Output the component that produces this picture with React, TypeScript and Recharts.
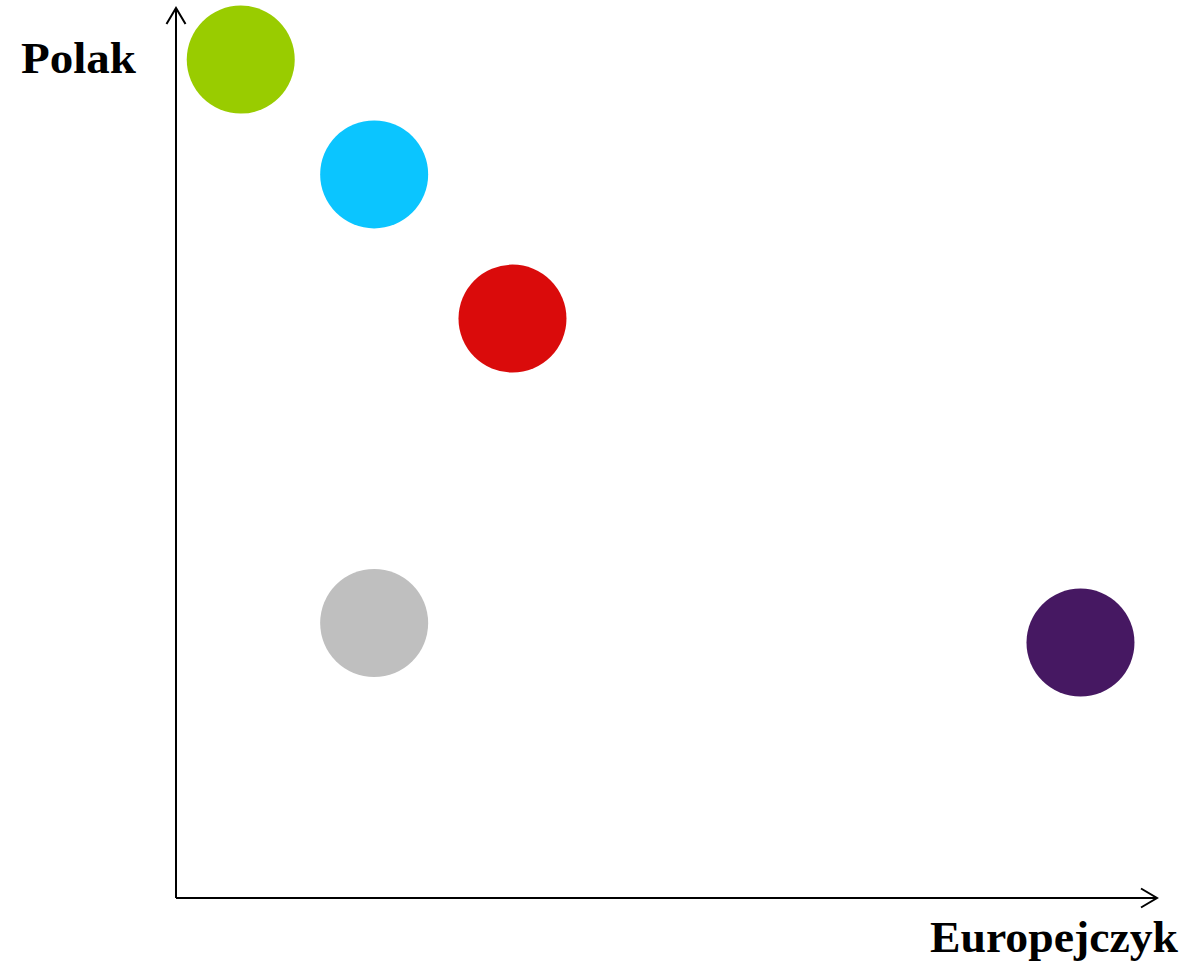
import React from 'react';
import { ScatterChart, Scatter, XAxis, YAxis, Cell, Label } from 'recharts';

// identities placed on the two axes
const names = ['A', 'B', 'C', 'D', 'E'];
const europeanValues = [6.6, 20.2, 34.3, 20.2, 92.2];
const polishValues = [94.2, 81.3, 65.1, 30.9, 28.7];
const colors = ['#99CC00', '#0BC5FF', '#DA0B0B', '#BFBFBF', '#461862'];

const xLabel = 'Europejczyk';
const yLabel = 'Polak';

const data = names.map((name, i) => ({
  name,
  x: europeanValues[i],
  y: polishValues[i],
}));

const labelFont = '"Liberation Serif", "DejaVu Serif", serif';

const Dot = (props: any) => {
  const { cx, cy, fill } = props;
  return <circle cx={cx} cy={cy} r={54} fill={fill} />;
};

const YLabel = (props: any) => {
  const { viewBox } = props;
  return (
    <text
      x={viewBox.x - 154}
      y={viewBox.y + 65}
      fontFamily={labelFont}
      fontWeight="bold"
      fontSize={44}
      fill="#000"
      textLength={115}
      lengthAdjust="spacingAndGlyphs"
    >
      {yLabel}
    </text>
  );
};

const XLabel = (props: any) => {
  const { viewBox } = props;
  return (
    <text
      x={viewBox.x + viewBox.width - 227}
      y={viewBox.y + 54}
      fontFamily={labelFont}
      fontWeight="bold"
      fontSize={44}
      fill="#000"
      textLength={248}
      lengthAdjust="spacingAndGlyphs"
    >
      {xLabel}
    </text>
  );
};

const App: React.FC = () => {
  return (
    <div style={{ position: 'absolute', top: 0, left: 0, background: '#fff' }}>
      {/* arrow heads for the axis lines */}
      <svg width={0} height={0} style={{ position: 'absolute' }}>
        <defs>
          <marker
            id="arrow"
            markerUnits="userSpaceOnUse"
            viewBox="-20 -12 22 24"
            refX={0}
            refY={0}
            markerWidth={22}
            markerHeight={24}
            orient="auto-start-reverse"
          >
            <path d="M-16,-9.5 L0,0 L-16,9.5" fill="none" stroke="#000" strokeWidth={2} />
          </marker>
        </defs>
      </svg>

      <ScatterChart
        width={1191}
        height={967}
        margin={{ top: 8, right: 34, bottom: 68, left: 175 }}
      >
        <XAxis
          type="number"
          dataKey="x"
          domain={[0, 100]}
          height={1}
          tick={false}
          tickLine={false}
          axisLine={{ stroke: '#000', strokeWidth: 2, markerEnd: 'url(#arrow)' }}
        >
          <Label content={<XLabel />} />
        </XAxis>
        <YAxis
          type="number"
          dataKey="y"
          domain={[0, 100]}
          width={1}
          tick={false}
          tickLine={false}
          axisLine={{ stroke: '#000', strokeWidth: 2, markerStart: 'url(#arrow)' }}
        >
          <Label content={<YLabel />} />
        </YAxis>
        <Scatter data={data} shape={<Dot />} isAnimationActive={false}>
          {data.map((d, i) => (
            <Cell key={d.name} fill={colors[i]} />
          ))}
        </Scatter>
      </ScatterChart>
    </div>
  );
};

export default App;
